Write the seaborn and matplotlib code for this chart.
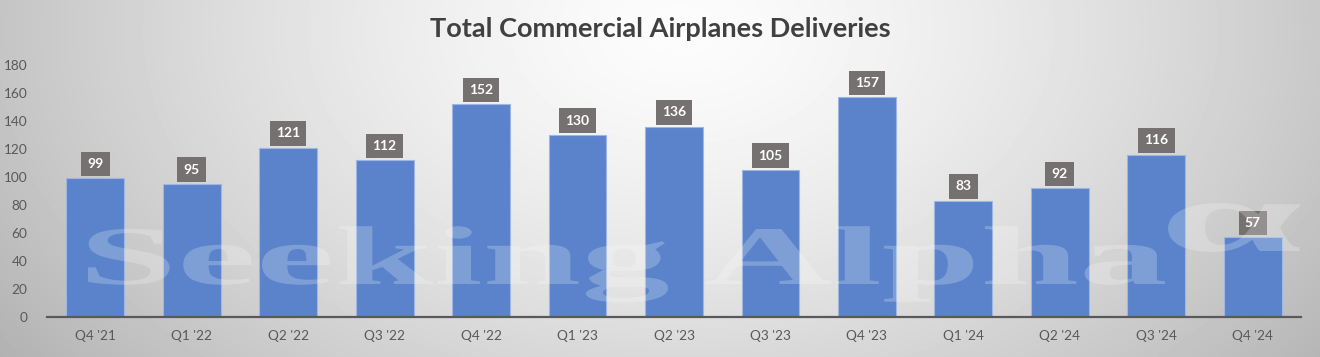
import numpy as np
import pandas as pd
import matplotlib
matplotlib.use("Agg")
import matplotlib.pyplot as plt
import seaborn as sns
from matplotlib.textpath import TextPath
from matplotlib.patches import PathPatch
from matplotlib.font_manager import FontProperties
from matplotlib.transforms import Affine2D

quarters = ["Q4 '21", "Q1 '22", "Q2 '22", "Q3 '22", "Q4 '22", "Q1 '23", "Q2 '23",
            "Q3 '23", "Q4 '23", "Q1 '24", "Q2 '24", "Q3 '24", "Q4 '24"]
deliveries = [99, 95, 121, 112, 152, 130, 136, 105, 157, 83, 92, 116, 57]
yticks = [0, 20, 40, 60, 80, 100, 120, 140, 160, 180]
title = "Total Commercial Airplanes Deliveries"

sns.set_theme(style="white")
plt.rcParams['font.family'] = ['Lato', 'DejaVu Sans']

W, H = 1320, 357
fig = plt.figure(figsize=(W / 100, H / 100), dpi=100)

# background gradient
bg = fig.add_axes([0, 0, 1, 1], zorder=0)
yy, xx = np.mgrid[0:H, 0:W]
d = np.sqrt(((xx - 680) / 720.0) ** 2 + ((yy - 30) / 480.0) ** 2)
val = np.clip(252 - 60 * d ** 1.4, 170, 252) / 255.0
bg.imshow(val, cmap="gray", vmin=0, vmax=1, extent=[0, W, H, 0], aspect="auto", interpolation="bilinear")
bg.set_xlim(0, W); bg.set_ylim(H, 0)
bg.axis("off")

left, right = 47 / W, 1301 / W
bottom, top = 1 - 317 / H, 1 - 65 / H
ax = fig.add_axes([left, bottom, right - left, top - bottom], zorder=1)
ax.set_facecolor("none")

df = pd.DataFrame({"quarter": quarters, "deliveries": deliveries})
sns.barplot(data=df, x="quarter", y="deliveries", color="#5A83CB", width=0.6,
            saturation=1, edgecolor="#9DB6E2", linewidth=0.8, ax=ax)

ax.set_xlim(-0.5, len(quarters) - 0.5)
ax.set_ylim(0, 180)
ax.set_yticks(yticks)
ax.set_xlabel("")
ax.set_ylabel("")
for s in ["top", "right", "left"]:
    ax.spines[s].set_visible(False)
ax.spines["bottom"].set_color("#595959")
ax.spines["bottom"].set_linewidth(1.6)
ax.tick_params(axis="both", length=0, labelsize=9.8, labelcolor="#595959")
ax.tick_params(axis="x", pad=9)
ax.tick_params(axis="y", pad=14)

ax.bar_label(ax.containers[0], padding=6, color="white", fontweight="bold", fontsize=10,
             bbox=dict(boxstyle="square,pad=0.45", facecolor="#767171", edgecolor="none"))

fig.text(0.5, 1 - 29 / H, title, ha="center", va="center", fontsize=19.5,
         fontweight="bold", color="#404040")

# watermark overlay
ov = fig.add_axes([0, 0, 1, 1], zorder=2)
ov.set_xlim(0, W); ov.set_ylim(H, 0)
ov.axis("off")
ov.patch.set_alpha(0)

fp = FontProperties(family="Liberation Serif", weight="bold")
tp = TextPath((0, 0), "Seeking Alpha", prop=fp, size=1)
ext = tp.get_extents()
capH = TextPath((0, 0), "S", prop=fp, size=1).get_extents().height
sy = 56 / capH
sx = (1165 - 88) / ext.width
tr = Affine2D().translate(-ext.x0, 0).scale(sx, -sy).translate(88, 284)
ov.add_patch(PathPatch(tr.transform_path(tp), facecolor="white", edgecolor="none", alpha=0.22))

ta = TextPath((0, 0), "\u03b1", prop=fp, size=1)
ea = ta.get_extents()
tra = Affine2D().translate(-ea.x0, -ea.y0).scale((1300 - 1168) / ea.width, -(252 - 203) / ea.height).translate(1168, 252)
ov.add_patch(PathPatch(tra.transform_path(ta), facecolor="white", edgecolor="none", alpha=0.22))

fig.savefig("out.png", dpi=100)
